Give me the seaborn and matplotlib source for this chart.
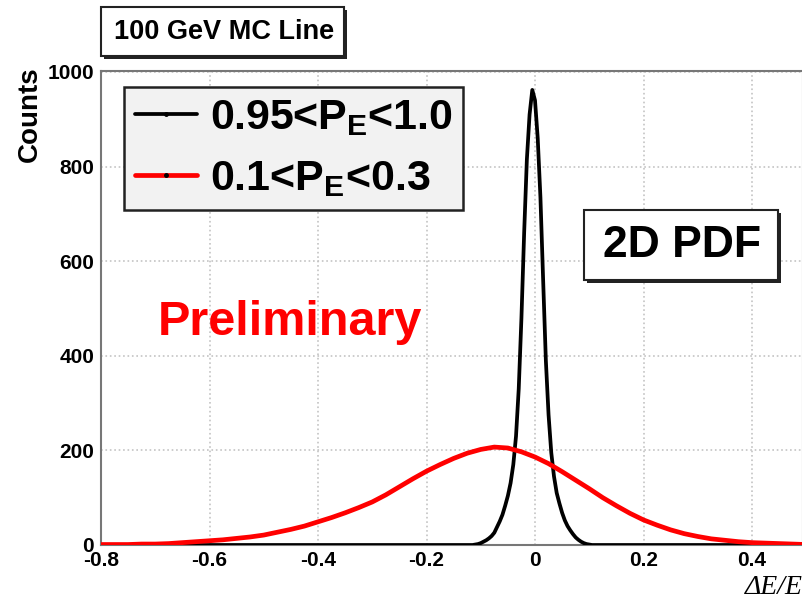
import numpy as np
import pandas as pd
import seaborn as sns
import matplotlib
matplotlib.use("Agg")
import matplotlib.pyplot as plt
from matplotlib.lines import Line2D
from matplotlib.patches import Rectangle
from matplotlib.ticker import MultipleLocator

# narrow peak, 0.95 < P_E < 1.0
black_x = [-0.8, -0.12, -0.115, -0.11, -0.105, -0.1, -0.095, -0.09, -0.085, -0.08,
           -0.075, -0.07, -0.065, -0.06, -0.055, -0.05, -0.045, -0.04, -0.035, -0.03,
           -0.025, -0.02, -0.015, -0.01, -0.005, 0.0, 0.005, 0.01, 0.015, 0.02,
           0.025, 0.03, 0.035, 0.04, 0.045, 0.05, 0.055, 0.06, 0.065, 0.07,
           0.075, 0.08, 0.085, 0.09, 0.095, 0.1, 0.105, 0.5]
black_counts = [0, 0, 0, 1, 2, 4, 7, 10, 14, 19,
                26, 38, 50, 64, 83, 104, 131, 170, 230, 330,
                480, 660, 815, 910, 962, 940, 860, 735, 560, 390,
                275, 195, 145, 110, 88, 68, 52, 40, 31, 23,
                16, 11, 7, 4, 2, 1, 0, 0]

# broad peak, 0.1 < P_E < 0.3
red_x = [-0.8, -0.775, -0.75, -0.725, -0.7, -0.675, -0.65, -0.625, -0.6, -0.575,
         -0.55, -0.525, -0.5, -0.475, -0.45, -0.425, -0.4, -0.375, -0.35, -0.325,
         -0.3, -0.275, -0.25, -0.225, -0.2, -0.175, -0.15, -0.125, -0.1, -0.075,
         -0.05, -0.025, 0.0, 0.025, 0.05, 0.075, 0.1, 0.125, 0.15, 0.175,
         0.2, 0.225, 0.25, 0.275, 0.3, 0.325, 0.35, 0.375, 0.4, 0.425,
         0.45, 0.475, 0.5]
red_counts = [1, 1, 1, 2, 2, 3, 5, 7, 9, 11,
              14, 17, 21, 27, 33, 40, 49, 58, 68, 79,
              91, 106, 123, 140, 156, 170, 183, 194, 202, 207,
              205, 197, 186, 172, 155, 137, 119, 100, 83, 67,
              53, 42, 32, 24, 18, 13, 10, 7, 5, 4,
              3, 2, 1]

x_ticks = [-0.8, -0.6, -0.4, -0.2, 0.0, 0.2, 0.4]
x_tick_labels = ["-0.8", "-0.6", "-0.4", "-0.2", "0", "0.2", "0.4"]
y_ticks = [0, 200, 400, 600, 800, 1000]

sns.set_theme(style="white")
plt.rcParams["font.family"] = ["Liberation Sans", "DejaVu Sans"]
plt.rcParams["font.weight"] = "bold"
plt.rcParams["text.color"] = "black"
plt.rcParams["xtick.color"] = "black"
plt.rcParams["ytick.color"] = "black"
plt.rcParams["axes.unicode_minus"] = False
plt.rcParams["mathtext.fontset"] = "custom"
plt.rcParams["mathtext.rm"] = "Liberation Sans:bold"
plt.rcParams["mathtext.it"] = "Liberation Sans:bold"
plt.rcParams["mathtext.bf"] = "Liberation Sans:bold"
plt.rcParams["mathtext.default"] = "bf"

W, H = 803, 600
fig = plt.figure(figsize=(W / 100, H / 100), dpi=100)
ax = fig.add_axes([101 / W, 55 / H, 702 / W, 474.5 / H])

sns.lineplot(x=black_x, y=black_counts, color="black", lw=2.7, ax=ax,
             estimator=None, sort=False, zorder=3)
sns.lineplot(x=red_x, y=red_counts, color="red", lw=3.4, ax=ax,
             estimator=None, sort=False, zorder=4)

ax.set_xlim(-0.8, 0.494)
ax.set_ylim(0, 1003)
ax.set_xticks(x_ticks)
ax.set_xticklabels(x_tick_labels)
ax.set_yticks(y_ticks)
ax.xaxis.set_minor_locator(MultipleLocator(0.05))
ax.yaxis.set_minor_locator(MultipleLocator(50))
ax.tick_params(which="major", direction="in", length=9, width=1.2, color="#555555",
               labelsize=15, pad=5)
ax.tick_params(which="minor", direction="in", length=5, width=1.0, color="#555555")
ax.tick_params(axis="x", pad=4)
ax.grid(True, which="major", color="#c4c4c4", linestyle=":", linewidth=1.2)
ax.set_axisbelow(True)
for s in ax.spines.values():
    s.set_color("#777777")
    s.set_linewidth(1.5)
ax.set_xlabel("")
ax.set_ylabel("")

# legend
handles = [
    Line2D([], [], color="black", lw=2.7, marker="o", markersize=2.5,
           markerfacecolor="black", markeredgecolor="black"),
    Line2D([], [], color="red", lw=3.4, marker="o", markersize=2.5,
           markerfacecolor="black", markeredgecolor="black"),
]
leg = ax.legend(handles, ["0.95<P$_{E}$<1.0", "0.1<P$_{E}$<0.3"],
                loc="upper left", bbox_to_anchor=(23 / 702, 458 / 474.5),
                prop={"size": 31, "weight": "bold"}, handlelength=1.45,
                handletextpad=0.3, borderpad=0.25, labelspacing=0.5,
                numpoints=1, fancybox=False, framealpha=1, borderaxespad=0)
leg.get_frame().set_facecolor("#f2f2f2")
leg.get_frame().set_edgecolor("#222222")
leg.get_frame().set_linewidth(1.8)


def shadow_box(x0, y0, x1, y1):
    # pixel coords from top-left
    fig.patches.append(Rectangle(((x0 + 3) / W, 1 - (y1 + 3) / H), (x1 - x0) / W, (y1 - y0) / H,
                                 transform=fig.transFigure, facecolor="#222222",
                                 edgecolor="none", zorder=5))
    fig.patches.append(Rectangle((x0 / W, 1 - y1 / H), (x1 - x0) / W, (y1 - y0) / H,
                                 transform=fig.transFigure, facecolor="white",
                                 edgecolor="#222222", lw=1.5, zorder=6))


shadow_box(101, 7, 344, 56)
fig.text(224 / W, 1 - 32 / H, "100 GeV MC Line", ha="center", va="center",
         fontsize=19.5, zorder=7)

shadow_box(584, 210, 778, 280)
fig.text(682 / W, 1 - 246 / H, "2D PDF", ha="center", va="center",
         fontsize=32, zorder=7)

fig.text(290 / W, 1 - 335 / H, "Preliminary", ha="center", va="baseline",
         fontsize=35, color="red", zorder=7)

fig.text(30 / W, 1 - 66 / H, "Counts", rotation=90, ha="center", va="top", fontsize=20)
fig.text(803 / W, 1 - 594 / H, "ΔE/E", ha="right", va="baseline", fontsize=20,
         family="Liberation Serif", style="italic", weight="normal")

fig.savefig("out.png", dpi=100)
